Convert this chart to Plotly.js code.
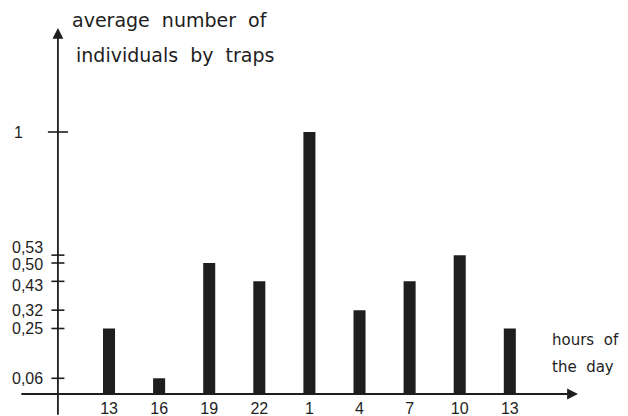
<!DOCTYPE html>
<html>
<head>
<meta charset="utf-8">
<script src="https://cdn.plot.ly/plotly-3.0.1.min.js"></script>
<style>html,body{margin:0;padding:0;background:#fff;}#chart{width:628px;height:416px;}</style>
</head>
<body>
<div id="chart"></div>
<script>
// Data
const hours = ["13", "16", "19", "22", "1", "4", "7", "10", "13"];
const avgIndividuals = [0.25, 0.06, 0.50, 0.43, 1, 0.32, 0.43, 0.53, 0.25];
const yTickVals = [0.06, 0.25, 0.32, 0.43, 0.50, 0.53, 1];
const yTickText = ["0,06", "0,25", "0,32", "0,43", "0,50", "0,53", "1"];

// Layout helpers (pixel nudges so crowded labels do not collide)
const labelNudge = {"0,53": 8, "0,50": -1, "0,43": -4};
const labelShiftX = {"1": -20};

const xPos = hours.map((h, i) => i);
const yAxisX = -1.02;
const ink = "#1e1e1e";
const font = "Liberation Sans, Arial, sans-serif";
const titleFont = "DejaVu Sans, sans-serif";

const shapes = yTickVals.map(v => ({
  type: "line", xref: "x", yref: "y",
  x0: yAxisX - (v === 1 ? 0.2 : 0.13), x1: yAxisX + (v === 1 ? 0.2 : 0.13), y0: v, y1: v,
  line: {color: ink, width: 1.6}
}));

const tickLabels = yTickVals.map((v, i) => ({
  xref: "paper", yref: "y", x: 45/628, y: v, xanchor: "right", yanchor: "middle",
  yshift: labelNudge[yTickText[i]] || 0,
  xshift: labelShiftX[yTickText[i]] || 0,
  showarrow: false, text: yTickText[i], font: {family: font, size: 16, color: ink}
}));

const annotations = tickLabels.concat([
  // y axis with arrow
  {x: yAxisX, y: 1.397, ax: yAxisX, ay: -0.085, xref: "x", yref: "y", axref: "x", ayref: "y",
   showarrow: true, arrowhead: 2, arrowsize: 1.2, arrowwidth: 1.8, arrowcolor: ink, text: ""},
  // x axis with arrow
  {x: 9.36, y: 0, ax: -1.78, ay: 0, xref: "x", yref: "y", axref: "x", ayref: "y",
   showarrow: true, arrowhead: 2, arrowsize: 1.2, arrowwidth: 1.8, arrowcolor: ink, text: ""},
  {xref: "paper", yref: "paper", x: 70/628, y: 1 - 20/394, xanchor: "left", yanchor: "middle",
   showarrow: false, text: "average  number  of", font: {family: titleFont, size: 19, color: ink}},
  {xref: "paper", yref: "paper", x: 74/628, y: 1 - 55/394, xanchor: "left", yanchor: "middle",
   showarrow: false, text: "individuals  by  traps", font: {family: titleFont, size: 19, color: ink}},
  {xref: "paper", yref: "paper", x: 550/628, y: 1 - 340/394, xanchor: "left", yanchor: "middle",
   showarrow: false, text: "hours  of", font: {family: titleFont, size: 15, color: ink}},
  {xref: "paper", yref: "paper", x: 550/628, y: 1 - 367/394, xanchor: "left", yanchor: "middle",
   showarrow: false, text: "the  day", font: {family: titleFont, size: 15, color: ink}}
]);

const trace = {
  type: "bar", x: xPos, y: avgIndividuals, width: 0.24,
  marker: {color: ink, line: {width: 0}}, hoverinfo: "none", cliponaxis: false
};

const layout = {
  width: 628, height: 416,
  margin: {l: 0, r: 0, t: 0, b: 22},
  paper_bgcolor: "#fff", plot_bgcolor: "#fff",
  showlegend: false,
  xaxis: {
    range: [-2.176, 10.359], showgrid: false, zeroline: false, showline: false,
    tickmode: "array", tickvals: xPos, ticktext: hours, ticks: "",
    ticklabelstandoff: 3,
    tickfont: {family: font, size: 16, color: ink}, fixedrange: true
  },
  yaxis: {
    range: [0, 1.5038], showgrid: false, zeroline: false, showline: false,
    showticklabels: false, ticks: "", fixedrange: true
  },
  shapes: shapes,
  annotations: annotations
};

Plotly.newPlot("chart", [trace], layout, {displayModeBar: false, staticPlot: true});
</script>
</body>
</html>
